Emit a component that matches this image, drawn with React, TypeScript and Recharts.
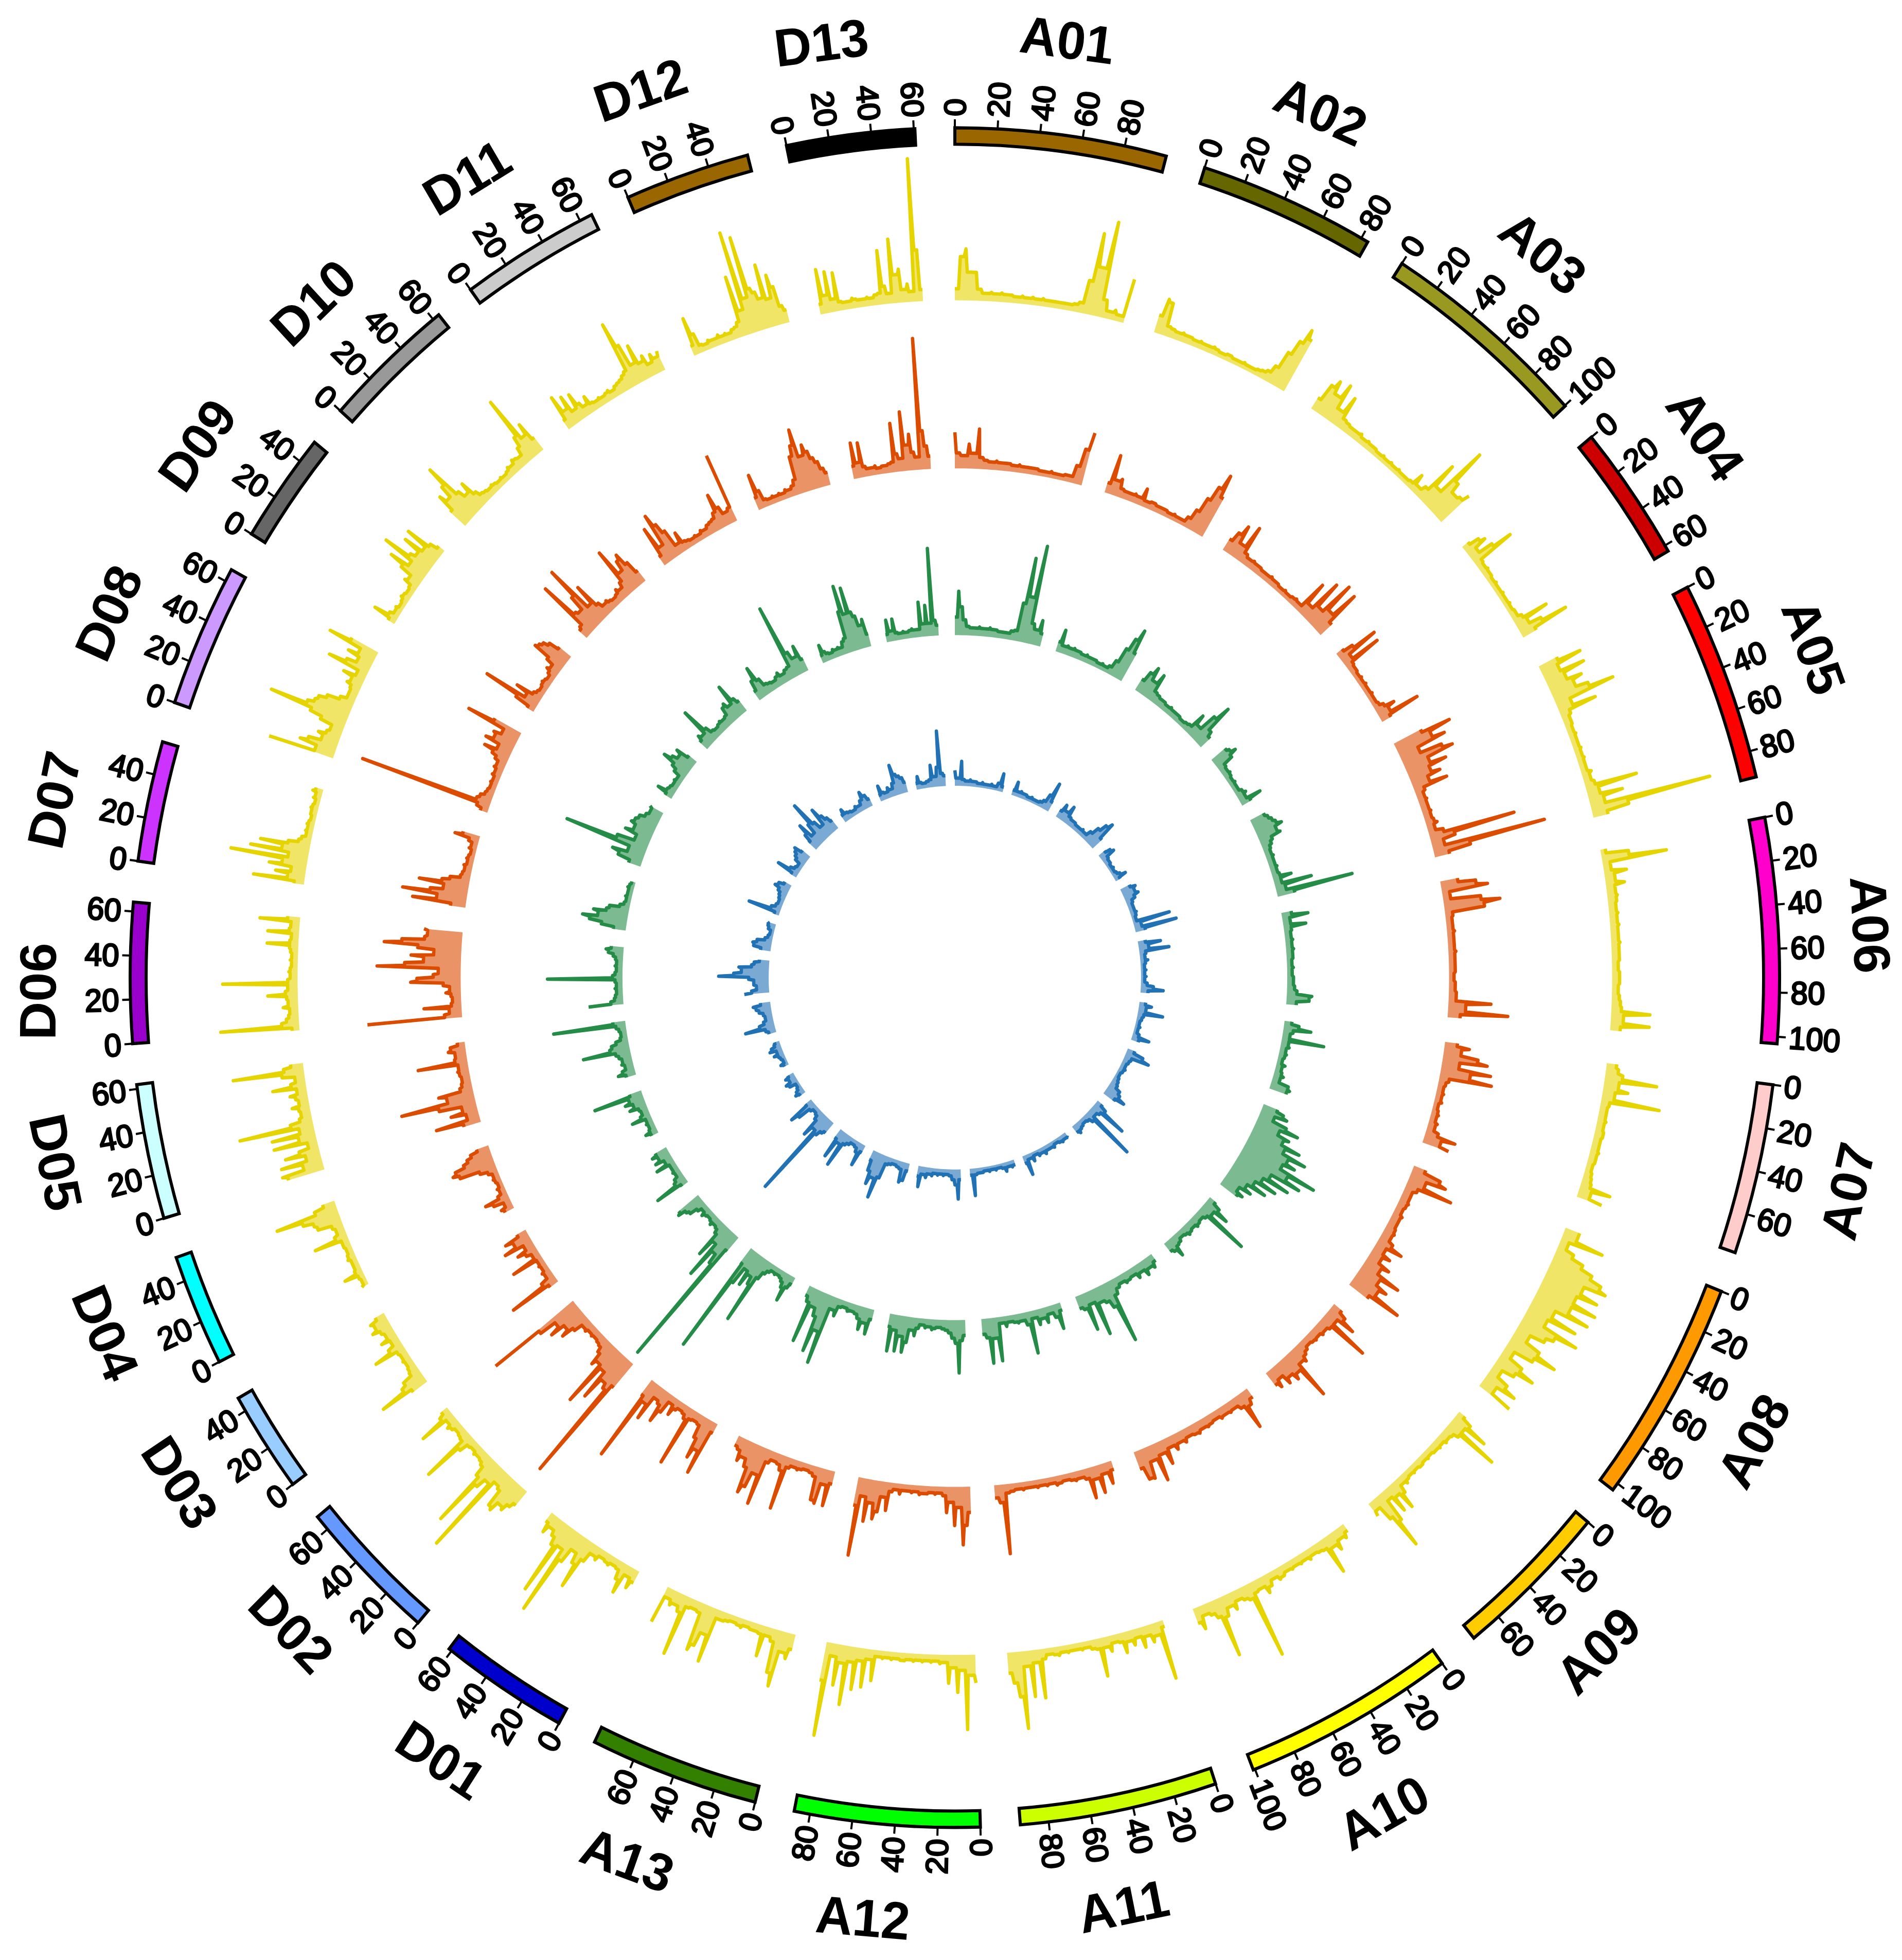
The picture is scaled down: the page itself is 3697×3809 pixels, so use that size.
import { RadarChart, Radar, PolarAngleAxis, PolarRadiusAxis, PieChart, Pie, Cell } from "recharts";

const CHROMS = ["A01","A02","A03","A04","A05","A06","A07","A08","A09","A10","A11","A12","A13","D01","D02","D03","D04","D05","D06","D07","D08","D09","D10","D11","D12","D13"];
const LENGTHS = [99.88,83.45,100.26,62.91,92.05,103.17,78.25,103.63,74.99,100.87,93.32,87.48,79.96,61.46,67.28,46.69,51.45,61.93,64.29,55.31,65.89,51,63.37,66.09,59.11,60.53];
const COLORS = ["#996600","#666600","#999922","#CC0000","#FF0000","#FF00CC","#FFCCCC","#FF9900","#FFCC00","#FFFF00","#CCFF00","#00FF00","#338000","#0000CC","#6699FF","#99CCFF","#00FFFF","#CCFFFF","#9900CC","#CC33FF","#CC99FF","#666666","#999999","#CCCCCC","#996600","#000000"];
// how far each name sits back along its own reading direction
const NAME_SHIFT = [12,10,12,8,0,0,0,0,0,26,28,32,30,26,24,26,30,18,36,36,34,30,30,34,34,34];
const GAP = 18.7;

// heights above each track's baseline, one list per chromosome in CHROMS order
const YELLOW = [
  [9,34,40,22,22,9,6,7,6,7,6,6,5,6,5,6,5,6,5,5,5,5,5,6,8,26,64,38,75,14,6,8,5,35],
  [14,28,26,8,7,6,7,6,6,5,6,5,5,6,5,4,5,5,4,4,5,4,4,5,6,8,14,28,40,52,45],
  [10,24,30,20,32,12,26,8,7,6,6,7,5,6,5,5,4,5,4,5,4,5,4,4,5,14,6,10,36,16,58,30,22,24,30],
  [6,14,18,8,20,36,6,5,6,5,5,4,5,4,4,5,4,4,5,4,5,5,8,29,10,20,41,12],
  [16,35,14,34,16,28,20,30,50,12,31,8,6,6,5,6,5,5,6,5,6,5,5,8,6,8,42,10,28,12,98,30,12],
  [4,22,52,6,18,8,15,7,8,7,6,7,6,7,6,6,7,6,6,6,5,6,6,6,5,6,7,8,31,10,31,8],
  [8,10,14,42,12,20,10,47,7,6,6,7,6,7,7,6,6,7,6,6,5,6,7,8,25,10,21],
  [12,12,35,7,14,24,34,44,50,32,47,30,50,30,48,20,42,18,48,30,24,12,25,42,24,8,20,33,18,8,18,28,12,30],
  [6,14,31,12,45,12,8,7,8,6,7,6,6,5,6,5,6,6,5,6,5,6,8,6,12,24,10,22,8,26,48,20,8,12],
  [6,10,8,15,10,30,8,7,6,8,6,7,6,7,6,8,9,6,10,14,8,9,61,12,10,8,14,10,16,47,14,10,8,18,12],
  [5,46,10,14,8,16,7,12,8,16,7,6,12,8,30,8,7,5,6,5,5,6,5,7,6,5,8,38,10,36,12,60,35,24,16],
  [22,16,58,12,29,10,22,6,7,5,6,5,6,5,6,5,6,6,5,6,5,6,5,24,8,30,10,33,12,46,14,32,10,73,30],
  [12,20,16,44,34,10,7,24,7,6,6,5,7,6,5,6,7,7,43,22,33,38,8,7,8,48,14,10,12,8,30],
  [10,16,8,24,14,7,6,8,7,6,10,8,16,41,22,14,26,73,18,60,20,14,10,16,8],
  [14,18,24,22,30,28,14,12,78,16,24,62,18,10,8,7,8,6,7,14,45,8,7,6,8,10,7,30,10,6],
  [14,41,20,16,8,7,6,7,6,7,26,12,7,14,8,10,16,12,14,8],
  [6,4,5,16,6,5,5,7,6,5,6,6,28,10,7,9,20,22,30,51,18,10],
  [30,34,16,33,12,28,16,8,35,14,35,12,60,18,10,8,9,14,8,10,14,8,27,12,8,18,57,16,10],
  [6,63,14,10,8,7,12,8,9,24,10,8,60,8,6,7,6,5,6,5,6,7,25,7,6,25,8,7,32,10],
  [8,41,14,24,12,30,20,62,16,47,22,40,18,10,8,5,6,5,6,5,4,5,5,6,5,4,6,5,8,6],
  [54,16,30,24,14,18,12,10,20,30,65,35,30,28,22,12,7,7,8,12,10,18,8,34,20,12,22,14,42,24],
  [6,20,8,5,6,4,5,7,6,5,6,12,10,20,32,16,42,20,16,30,14,32,12,6],
  [16,30,24,34,50,22,16,24,12,8,7,6,7,6,5,6,5,6,8,7,10,9,8,14,22,55,18,27,12],
  [8,28,14,24,10,22,12,8,14,7,6,7,6,7,8,6,8,9,10,12,14,54,34,16,30,14,18,10,16,12,16],
  [8,30,16,6,5,7,6,6,8,6,7,6,8,9,12,48,20,82,28,76,34,30,24,50,22,40,30,14,10],
  [8,35,14,32,10,30,7,6,6,8,7,6,6,7,6,8,9,42,14,8,50,22,26,10,14,8,111,40,9],
];

const ORANGE = [
  [28,12,10,19,12,31,9,7,6,7,6,6,6,5,6,5,5,5,5,4,4,5,4,4,5,5,14,28,42],
  [8,31,12,14,7,6,6,7,6,14,5,6,6,5,5,5,4,5,4,4,8,16,28,40,52,34],
  [10,18,26,12,30,8,6,7,6,6,5,5,6,5,5,4,5,4,5,6,5,28,10,36,14,42,18,40,12],
  [6,14,34,8,32,6,5,5,4,5,4,5,4,4,5,4,4,5,8,16,10,34,8],
  [24,48,30,40,16,34,42,20,33,18,25,14,28,8,6,7,6,6,7,6,7,9,6,12,70,20,10,92,30,12],
  [14,28,37,6,30,45,32,6,5,5,6,5,5,5,6,5,5,5,5,4,5,5,6,6,34,14,48,10],
  [10,20,14,28,36,14,40,24,42,8,6,5,6,5,6,4,5,6,5,7,6,10,25,14,22],
  [10,24,30,14,38,10,7,7,8,7,6,8,7,7,8,9,8,12,22,9,16,10,20,14,34,18,28,22,45,18],
  [8,14,25,10,42,10,8,9,7,8,7,6,8,10,14,12,42,16,20,14,18,10,16,12],
  [8,12,30,10,7,8,7,8,6,7,8,7,9,8,7,10,8,12,8,20,10,30,12,25,24,14],
  [7,17,8,22,10,24,8,6,7,6,5,6,7,5,6,5,6,5,5,6,5,6,7,54,14,10],
  [20,30,45,16,30,12,20,7,5,6,5,6,6,7,5,6,5,5,8,5,7,22,12,24,30,18,33,14,61,22],
  [10,28,12,28,26,8,6,5,6,7,6,8,42,12,8,7,10,45,22,34,40,20,14,18,10,8],
  [8,44,26,34,18,8,7,8,48,10,7,6,8,14,6,16,26,12,10,30,18,70,14],
  [24,110,30,26,44,20,54,18,22,12,8,7,6,7,6,8,7,14,24,18,30,22,36,80],
  [8,42,12,6,7,5,6,5,26,6,10,16,8,24,14,20,8],
  [8,10,6,14,20,8,5,6,4,5,6,5,8,14,30,35,32,24,20,16,10],
  [14,36,10,22,12,30,60,22,28,10,8,7,8,9,8,40,10,9,14,12,6],
  [76,14,10,30,8,7,8,12,9,14,40,35,22,18,67,45,30,40,22,35,62,48,30,28,31],
  [12,43,24,52,30,20,40,22,16,8,7,6,7,5,6,5,4,6,5,8,20,14],
  [6,10,108,12,10,7,6,5,6,5,7,6,8,7,10,14,22,12,24,18,20,14,46,24],
  [6,18,47,12,22,8,6,5,6,7,6,5,7,10,8,14,28,26,24,20,12],
  [8,10,50,20,18,30,55,16,32,12,8,9,7,6,7,10,8,12,40,18,26,30,20,10],
  [8,32,14,40,30,22,8,16,7,6,5,6,5,7,6,8,9,10,14,28,16,10,12,56],
  [10,28,14,6,5,6,5,6,5,7,6,8,12,30,38,50,28,36,30,24,20,14,10],
  [10,28,12,27,8,6,6,7,5,6,6,7,8,38,14,10,46,20,28,14,10,102,30,18,10],
];

const GREEN = [
  [14,34,22,12,7,6,6,7,6,6,7,6,6,5,5,5,7,8,30,66,36,77,16,12,20,10],
  [8,18,6,7,6,7,6,6,5,6,5,5,5,4,5,4,6,12,24,34,43,24],
  [10,18,24,14,22,8,7,6,6,5,6,5,5,5,4,5,6,18,10,24,36,14,10],
  [14,16,20,14,6,5,6,5,4,5,4,4,6,8,6,18,8],
  [12,14,16,18,22,16,18,10,8,6,5,6,5,5,6,5,6,15,6,30,8,62,14],
  [8,21,6,18,6,5,6,5,6,5,5,4,5,4,5,5,6,8,20,18,8],
  [6,12,22,8,6,34,6,7,5,6,5,4,7,5,6,8,6,14,16,14],
  [12,18,22,12,24,35,20,30,26,42,30,50,36,44,34,65,42,55,30,48,26,40,22,34,18,24,14,20,16],
  [6,12,22,10,44,8,6,7,8,6,7,8,6,5,7,8,16,10,8],
  [6,10,8,12,7,10,6,7,8,6,8,12,50,20,14,12,37,10,30,12,10],
  [6,20,10,6,12,8,12,6,33,10,6,7,6,5,8,5,34,16,35,15,12],
  [12,16,41,18,14,10,8,7,6,7,8,6,7,5,8,14,10,20,28,16,28,12,29,10],
  [8,20,12,18,10,7,6,7,5,6,14,10,55,30,48,20,14,44,12,8],
  [6,10,22,12,8,6,5,6,5,7,10,16,55,24,18,28,16,30,92,14],
  [14,120,30,22,46,16,30,10,7,6,8,6,5,6,8,5,8,14,16,22,20],
  [6,28,10,8,5,6,5,5,16,7,14,10,14,10],
  [6,10,6,5,6,5,16,8,6,7,14,10,16,12,40,10],
  [8,14,10,7,9,8,10,12,38,16,14,10,6,5,6,8,58,10],
  [28,10,7,6,5,6,5,6,60,8,6,5,6,5,6,8,12,14,10],
  [10,20,30,36,24,28,18,16,8,5,4,5,4,4,5,4,3],
  [10,20,26,14,68,26,12,22,16,20,18,16,12,10,12],
  [6,14,7,6,5,6,5,10,14,24,18,14,18,8],
  [8,12,10,32,12,7,6,7,8,7,8,14,16,12,28,14,10],
  [8,16,26,14,8,7,6,8,10,7,9,10,60,20,14,22,10],
  [6,14,8,6,5,7,6,7,6,10,12,33,53,30,50,30,26,18,22,10],
  [6,17,8,17,6,5,6,5,6,7,6,6,27,10,24,10,68,12,8],
];

const BLUE = [
  [12,6,19,5,4,5,4,4,3,4,3,3,4,3,6,14,4],
  [4,11,4,5,4,4,3,4,3,3,4,6,12,23,8],
  [6,12,8,14,6,5,5,4,4,5,4,8,14,20,24,10],
  [6,10,12,5,4,4,3,4,3,4,6,10,4],
  [8,12,10,12,8,5,4,4,5,4,3,30,6,34,8],
  [6,18,8,24,5,4,6,4,3,4,3,4,3,5,10,18,6],
  [5,10,6,20,5,4,3,4,3,5,14,6],
  [6,14,20,6,5,4,5,4,3,4,5,6,10,12,18,10],
  [5,10,30,8,6,44,8,5,4,5,6,8,6],
  [5,4,5,4,3,5,4,4,6,4,5,3,7,4,16,6],
  [4,5,4,7,4,3,4,3,4,3,4,4,5,21,5],
  [8,23,12,8,5,4,5,4,5,4,6,5,8,6,16,8],
  [6,14,16,6,5,4,5,6,18,35,20,26,16,8],
  [6,18,8,5,4,6,8,28,10,24,8],
  [10,12,16,73,14,22,8,5,4,6,16,22,6],
  [5,8,6,4,3,8,10,6,8,5],
  [4,6,3,4,5,8,5,10,8,5,4],
  [6,8,24,12,8,6,7,10,12,14,8],
  [20,14,10,12,12,16,40,28,22,24,14,12,8],
  [8,14,15,12,6,4,3,5,6,7],
  [4,26,8,5,4,5,6,8,12,10,6],
  [5,18,8,5,4,8,10,12,14,8],
  [8,14,22,10,18,36,16,10,24,16,12,8],
  [6,10,6,5,4,6,5,8,14,10,6],
  [5,12,6,5,8,6,10,24,16,14,12,8],
  [5,10,5,4,5,6,17,8,15,43,10,8],
];

const TRACKS = [
  { name: "yellow", profiles: YELLOW, base: 526, color: "#E6D400" },
  { name: "orange", profiles: ORANGE, base: 395.5, color: "#DB4B00" },
  { name: "green", profiles: GREEN, base: 266, color: "#258C47" },
  { name: "blue", profiles: BLUE, base: 149, color: "#2171B5" },
];

const WIDTH = 3697;
const SIDE = 3697;
const CX = 1856;
const CY = 1844;
const OUTER = 1603;
const INNER = 1572;
const MAX_VALUE = 659.7; // OUTER in data units
const FONT = "Liberation Sans";

const TOTAL = LENGTHS.reduce((a, b) => a + b + GAP, 0);
const STARTS = LENGTHS.map((_, i) => LENGTHS.slice(0, i).reduce((a, b) => a + b + GAP, 0));

function buildRows(profiles: number[][], base: number) {
  // rows without a "line" key break the line between chromosomes
  const rows: Record<string, any>[] = [{ pos: 0 }];
  profiles.forEach((heights, c) => {
    heights.forEach((h, i) => {
      rows.push({
        pos: STARTS[c] + 0.01 + (LENGTHS[c] * i) / (heights.length - 1),
        line: base + h,
        ["f" + c]: [base, base + h],
      });
    });
    rows.push({ pos: STARTS[c] + LENGTHS[c] + GAP / 2 });
  });
  return rows;
}

function polar(radius: number, angle: number) {
  const a = (-angle * Math.PI) / 180;
  return `${CX + radius * Math.cos(a)},${CY + radius * Math.sin(a)}`;
}

// step-like line style: stays at the lower value until close to the higher one, so peaks stay narrow
function peakPath(points: any[]) {
  let d = "";
  let prev: any = null;
  for (const p of points) {
    if (p.value == null) {
      prev = null;
      continue;
    }
    if (prev) {
      const rising = prev.radius < p.radius;
      const t = rising ? 0.7 : 0.3;
      d += `L${polar(rising ? prev.radius : p.radius, prev.angle + t * (p.angle - prev.angle))}L${p.x},${p.y}`;
    } else {
      d += `M${p.x},${p.y}`;
    }
    prev = p;
  }
  return d;
}

// Radar sends rows with no value to the centre, so both shapes skip those rows
function BrokenLine({ points, stroke, strokeWidth }: any) {
  return <path d={peakPath(points)} fill="none" stroke={stroke} strokeWidth={strokeWidth} strokeLinejoin="round" />;
}

function Band({ points, baseLinePoints, fill, fillOpacity }: any) {
  const inner = baseLinePoints.filter((p: any) => p.value != null).reverse();
  const d = peakPath(points) + inner.map((p: any) => `L${p.x},${p.y}`).join("") + "Z";
  return <path d={d} fill={fill} fillOpacity={fillOpacity} stroke="none" />;
}

const tickRows = [{ pos: 0 }, { pos: TOTAL }];
const tickLabels = new Map<number, number>();
LENGTHS.forEach((len, c) => {
  for (let v = 0; v <= len; v += 20) tickLabels.set(STARTS[c] + v, v);
});
const TICK_POS = [...tickLabels.keys()];

function ScaleTick({ x, y, payload }: any) {
  const clock = (payload.value / TOTAL) * 360;
  const rad = (clock * Math.PI) / 180;
  const tx = x + 6 * Math.sin(rad);
  const ty = y - 6 * Math.cos(rad);
  const right = clock < 180;
  const rot = right ? clock - 90 : clock + 90;
  return (
    <text
      x={tx}
      y={ty}
      transform={`rotate(${rot} ${tx} ${ty})`}
      textAnchor={right ? "start" : "end"}
      dominantBaseline="central"
      fontFamily={FONT}
      fontSize={60}
      stroke="#000"
      strokeWidth={3}
      fill="#000"
    >
      {tickLabels.get(payload.value)}
    </text>
  );
}

function NameLabel({ midAngle, name, index }: any) {
  const clock = ((90 - midAngle) % 360 + 360) % 360;
  const rad = (clock * Math.PI) / 180;
  const r = 1782;
  const x = CX + r * Math.sin(rad);
  const y = CY - r * Math.cos(rad);
  const rot = clock > 95 && clock < 265 ? clock - 180 : clock;
  return (
    <text
      x={x}
      y={y}
      dx={-NAME_SHIFT[index]}
      transform={`rotate(${rot} ${x} ${y})`}
      textAnchor="middle"
      dominantBaseline="central"
      fontFamily={FONT}
      fontWeight="bold"
      fontSize={100}
      fill="#000"
    >
      {name}
    </text>
  );
}

const layer = { position: "absolute", left: 0, top: 0 } as const;

function Track({ profiles, base, color }: { profiles: number[][]; base: number; color: string }) {
  const rows = buildRows(profiles, base);
  return (
    <div style={layer}>
      <RadarChart width={WIDTH} height={SIDE} data={rows} cx={CX} cy={CY} outerRadius={OUTER} margin={{ top: 0, right: 0, bottom: 0, left: 0 }}>
        <PolarAngleAxis dataKey="pos" type="number" domain={[0, TOTAL]} tick={false} tickLine={false} axisLine={false} />
        <PolarRadiusAxis domain={[0, MAX_VALUE]} type="number" tick={false} axisLine={false} />
        {profiles.map((_, c) => (
          <Radar key={c} dataKey={"f" + c} stroke="none" fill={color} fillOpacity={0.6} dot={false} shape={Band} isAnimationActive={false} />
        ))}
        <Radar dataKey="line" stroke={color} strokeWidth={6.5} fill="none" dot={false} shape={BrokenLine} isAnimationActive={false} />
      </RadarChart>
    </div>
  );
}

export default function App() {
  const slices = CHROMS.map((name, i) => ({ name, value: LENGTHS[i] }));
  return (
    <div style={{ ...layer, width: WIDTH, height: SIDE, transform: "scaleY(1.0303)", transformOrigin: "0 0", background: "#fff" }}>
      {TRACKS.map((t) => (
        <Track key={t.name} profiles={t.profiles} base={t.base} color={t.color} />
      ))}
      <div style={layer}>
        <RadarChart width={WIDTH} height={SIDE} data={tickRows} cx={CX} cy={CY} outerRadius={OUTER} margin={{ top: 0, right: 0, bottom: 0, left: 0 }}>
          <PolarAngleAxis
            dataKey="pos"
            type="number"
            domain={[0, TOTAL]}
            ticks={TICK_POS}
            tickSize={16}
            axisLine={false}
            tickLine={{ stroke: "#000", strokeWidth: 4 }}
            tick={ScaleTick}
          />
        </RadarChart>
      </div>
      <div style={layer}>
        <PieChart width={WIDTH} height={SIDE} margin={{ top: 0, right: 0, bottom: 0, left: 0 }}>
          <Pie
            data={slices}
            dataKey="value"
            nameKey="name"
            cx={CX}
            cy={CY}
            innerRadius={INNER}
            outerRadius={OUTER}
            startAngle={90}
            endAngle={-270}
            paddingAngle={(GAP / TOTAL) * 360}
            label={NameLabel}
            labelLine={false}
            isAnimationActive={false}
          >
            {COLORS.map((c, i) => (
              <Cell key={CHROMS[i]} fill={c} stroke="#000" strokeWidth={6} />
            ))}
          </Pie>
        </PieChart>
      </div>
    </div>
  );
}
